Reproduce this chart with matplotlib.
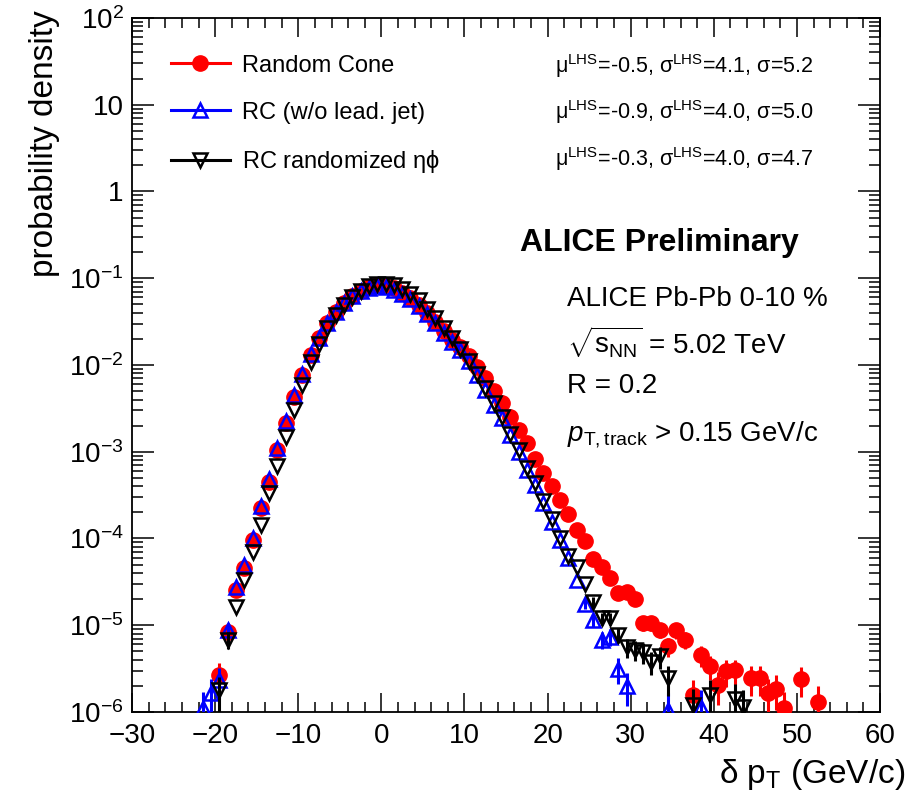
import numpy as np
import matplotlib
matplotlib.use('Agg')
import matplotlib.pyplot as plt
from matplotlib.lines import Line2D
from matplotlib.ticker import MultipleLocator, LogLocator, NullFormatter, FixedLocator, FixedFormatter

plt.rcParams['font.family'] = ['Liberation Sans', 'DejaVu Sans']
plt.rcParams['mathtext.fontset'] = 'custom'
plt.rcParams['mathtext.rm'] = 'Liberation Sans'
plt.rcParams['mathtext.it'] = 'Liberation Sans:italic'
plt.rcParams['mathtext.bf'] = 'Liberation Sans:bold'

nan = np.nan

# bin centres, delta pT (GeV/c), from -21.5 to 52.5
dpt = np.arange(-21.5, 53.0, 1.0)

# Random Cone
rc_val = [nan, nan, 2.69e-6, 8.3e-6, 2.57e-5, 4.57e-5, 9.5e-5, 2.24e-4, 4.47e-4, 1.05e-3,
          2.14e-3, 4.27e-3, 7.6e-3, 1.30e-2, 2.04e-2, 3.02e-2, 4.12e-2, 5.25e-2, 6.24e-2, 7.16e-2,
          7.94e-2, 8.32e-2, 8.13e-2, 7.67e-2, 6.84e-2, 5.89e-2, 4.95e-2, 3.98e-2, 3.16e-2, 2.45e-2,
          1.95e-2, 1.62e-2, 1.26e-2, 9.55e-3, 7.0e-3, 5.01e-3, 3.67e-3, 2.51e-3, 1.78e-3, 1.26e-3,
          8.3e-4, 5.75e-4, 4.07e-4, 2.75e-4, 1.91e-4, 1.26e-4, 9.3e-5, 5.75e-5, 4.68e-5, 3.55e-5,
          2.37e-5, 2.40e-5, 2.0e-5, 1.05e-5, 1.05e-5, 8.9e-6, 5.75e-6, 8.7e-6, 6.8e-6, 1.58e-6,
          4.57e-6, 3.39e-6, 2.04e-6, 2.95e-6, 3.02e-6, nan, 2.45e-6, 2.45e-6, 1.66e-6, 1.86e-6,
          1.10e-6, nan, 2.40e-6, nan, 1.32e-6]
rc_err = [0, 0, 0.96e-6, 1.7e-6, 3.0e-6, 0, 0, 0, 0, 0,
          0, 0, 0, 0, 0, 0, 0, 0, 0, 0,
          0, 0, 0, 0, 0, 0, 0, 0, 0, 0,
          0, 0, 0, 0, 0, 0, 0, 0, 0, 0,
          0, 0, 0, 0, 0, 0, 0, 0, 0, 0,
          2.8e-6, 2.9e-6, 2.6e-6, 1.9e-6, 1.9e-6, 1.7e-6, 1.4e-6, 1.7e-6, 1.5e-6, 0.73e-6,
          1.25e-6, 1.07e-6, 0.83e-6, 1.0e-6, 1.0e-6, 0, 0.91e-6, 0.91e-6, 0.75e-6, 0.8e-6,
          0.61e-6, 0, 0.9e-6, 0, 0.67e-6]

# RC without leading jet
nolead_val = [1.10e-6, 1.66e-6, 2.34e-6, 8.9e-6, 2.75e-5, 4.9e-5, 1.02e-4, 2.40e-4, 4.79e-4, 1.10e-3,
              2.24e-3, 4.47e-3, 7.94e-3, 1.33e-2, 2.07e-2, 3.05e-2, 4.12e-2, 5.19e-2, 6.17e-2, 7.08e-2,
              7.76e-2, 8.04e-2, 7.94e-2, 7.41e-2, 6.61e-2, 5.69e-2, 4.79e-2, 3.85e-2, 3.05e-2, 2.34e-2,
              1.86e-2, 1.48e-2, 1.10e-2, 7.67e-3, 5.15e-3, 3.46e-3, 2.43e-3, 1.56e-3, 1.0e-3, 6.17e-4,
              4.17e-4, 2.57e-4, 1.55e-4, 9.5e-5, 5.89e-5, 3.31e-5, 1.78e-5, 1.15e-5, 6.76e-6, 7.41e-6,
              3.16e-6, 2.0e-6, nan, nan, nan, nan, 1.05e-6, nan, nan, nan,
              1.15e-6, nan, nan, nan, nan, nan, nan, nan, nan, nan,
              nan, nan, nan, nan, nan]
nolead_err = [0.61e-6, 0.75e-6, 0.89e-6, 1.74e-6, 0, 0, 0, 0, 0, 0,
              0, 0, 0, 0, 0, 0, 0, 0, 0, 0,
              0, 0, 0, 0, 0, 0, 0, 0, 0, 0,
              0, 0, 0, 0, 0, 0, 0, 0, 0, 0,
              0, 0, 0, 0, 0, 0, 2.5e-6, 2.0e-6, 1.5e-6, 1.6e-6,
              1.04e-6, 0.82e-6, 0, 0, 0, 0, 0.6e-6, 0, 0, 0,
              0.63e-6, 0, 0, 0, 0, 0, 0, 0, 0, 0,
              0, 0, 0, 0, 0]

# RC randomized eta-phi
rand_val = [nan, nan, 1.78e-6, 6.76e-6, 1.62e-5, 3.31e-5, 7.0e-5, 1.43e-4, 3.34e-4, 6.85e-4,
            1.48e-3, 3.03e-3, 5.89e-3, 1.07e-2, 1.74e-2, 2.66e-2, 3.76e-2, 4.95e-2, 6.1e-2, 7.16e-2,
            8.04e-2, 8.51e-2, 8.61e-2, 8.32e-2, 7.59e-2, 6.61e-2, 5.56e-2, 4.47e-2, 3.51e-2, 2.69e-2,
            2.04e-2, 1.53e-2, 1.12e-2, 7.94e-3, 5.37e-3, 3.63e-3, 2.51e-3, 1.62e-3, 1.05e-3, 6.46e-4,
            4.37e-4, 2.69e-4, 1.66e-4, 1.0e-4, 6.31e-5, 4.68e-5, 3.02e-5, 1.86e-5, 1.20e-5, 1.20e-5,
            7.76e-6, 5.62e-6, 5.25e-6, 4.9e-6, 3.8e-6, 4.37e-6, 2.45e-6, nan, nan, 1.20e-6,
            nan, 1.58e-6, nan, nan, 1.41e-6, 1.15e-6, nan, nan, nan, nan,
            nan, nan, nan, nan, nan]
rand_err = [0, 0, 0.78e-6, 1.5e-6, 0, 0, 0, 0, 0, 0,
            0, 0, 0, 0, 0, 0, 0, 0, 0, 0,
            0, 0, 0, 0, 0, 0, 0, 0, 0, 0,
            0, 0, 0, 0, 0, 0, 0, 0, 0, 0,
            0, 0, 0, 0, 0, 0, 0, 2.5e-6, 2.0e-6, 2.0e-6,
            1.6e-6, 1.4e-6, 1.34e-6, 1.3e-6, 1.14e-6, 1.22e-6, 0.91e-6, 0, 0, 0.64e-6,
            0, 0.73e-6, 0, 0, 0.69e-6, 0.63e-6, 0, 0, 0, 0,
            0, 0, 0, 0, 0]

labels = ['Random Cone', 'RC (w/o lead. jet)', r'RC randomized $\mathregular{\eta\phi}$']
stats = [r'$\mathregular{\mu^{LHS}}$=-0.5, $\mathregular{\sigma^{LHS}}$=4.1, $\mathregular{\sigma}$=5.2',
         r'$\mathregular{\mu^{LHS}}$=-0.9, $\mathregular{\sigma^{LHS}}$=4.0, $\mathregular{\sigma}$=5.0',
         r'$\mathregular{\mu^{LHS}}$=-0.3, $\mathregular{\sigma^{LHS}}$=4.0, $\mathregular{\sigma}$=4.7']

fig = plt.figure(figsize=(9.22, 7.99), dpi=100)
ax = fig.add_axes([0.1432, 0.1089, 0.8113, 0.8686])

ax.errorbar(dpt, rc_val, yerr=rc_err, fmt='o', color='red', ms=11, elinewidth=2.2, capsize=0, zorder=3)
ax.errorbar(dpt, nolead_val, yerr=nolead_err, fmt='^', color='blue', mfc='none', mec='blue',
            ms=10.5, mew=1.8, elinewidth=2.2, capsize=0, zorder=4)
ax.errorbar(dpt, rand_val, yerr=rand_err, fmt='v', color='black', mfc='none', mec='black',
            ms=9.5, mew=1.8, elinewidth=2.2, capsize=0, zorder=5)

ax.set_yscale('log')
ax.set_xlim(-30, 60)
ax.set_ylim(1e-6, 1e2)

ax.xaxis.set_minor_locator(MultipleLocator(2))
xt = [-30, -20, -10, 0, 10, 20, 30, 40, 50, 60]
ax.set_xticks(xt)
ax.set_xticklabels(['\u221230', '\u221220', '\u221210', '0', '10', '20', '30', '40', '50', '60'])
yt = [1e-6, 1e-5, 1e-4, 1e-3, 1e-2, 1e-1, 1, 10, 100]
ax.yaxis.set_major_locator(FixedLocator(yt))
ax.yaxis.set_major_formatter(FixedFormatter([r'$\mathregular{10^{-6}}$', r'$\mathregular{10^{-5}}$',
                                             r'$\mathregular{10^{-4}}$', r'$\mathregular{10^{-3}}$',
                                             r'$\mathregular{10^{-2}}$', r'$\mathregular{10^{-1}}$',
                                             '1', '10', r'$\mathregular{10^{2}}$']))
ax.yaxis.set_minor_locator(LogLocator(base=10, subs=np.arange(2, 10), numticks=20))
ax.yaxis.set_minor_formatter(NullFormatter())

ax.tick_params(which='both', direction='in', top=True, right=True, labelsize=20)
ax.tick_params(axis='x', which='major', length=14, width=1.1, pad=8)
ax.tick_params(axis='x', which='minor', length=7, width=1.1)
ax.tick_params(axis='y', which='major', length=16, width=1.1, pad=6)
ax.tick_params(axis='y', which='minor', length=8, width=1.1)
for s in ax.spines.values():
    s.set_linewidth(1.3)

handles = [Line2D([], [], color='red', marker='o', ms=11, lw=2.2),
           Line2D([], [], color='blue', marker='^', mfc='none', mec='blue', ms=10.5, mew=1.8, lw=2.2),
           Line2D([], [], color='black', marker='v', mfc='none', mec='black', ms=9.5, mew=1.8, lw=2.2)]
ax.legend(handles, labels, loc='upper left', bbox_to_anchor=(0.052, 0.947), frameon=False,
          fontsize=17, handlelength=2.5, handletextpad=0.5, labelspacing=1.05,
          borderpad=0, borderaxespad=0)

for i, t in enumerate(stats):
    ax.text(0.566, 0.931 - i * 0.067, t, transform=ax.transAxes, fontsize=15.5, va='center', ha='left')

ax.text(0.519, 0.676, 'ALICE Preliminary', transform=ax.transAxes, fontsize=23,
        fontweight='bold', va='center', ha='left')
info = ['ALICE Pb-Pb 0-10 %', r'$\sqrt{\mathregular{s_{NN}}}$ = 5.02 TeV', 'R = 0.2',
        r'$p_{\rm T,track}$ > 0.15 GeV/c']
info_y = [0.595, 0.533, 0.470, 0.400]
for t, yy in zip(info, info_y):
    ax.text(0.582, yy, t, transform=ax.transAxes, fontsize=20, va='center', ha='left')

fig.text(45 / 922, 1 - 10 / 799, 'probability density', rotation=90, ha='center', va='top', fontsize=24)
fig.text(905 / 922, 1 - 775 / 799, r'$\mathregular{\delta\ p_{T}}$ (GeV/c)', ha='right', va='center', fontsize=24)

fig.savefig('out.png', dpi=100)
plt.close()
